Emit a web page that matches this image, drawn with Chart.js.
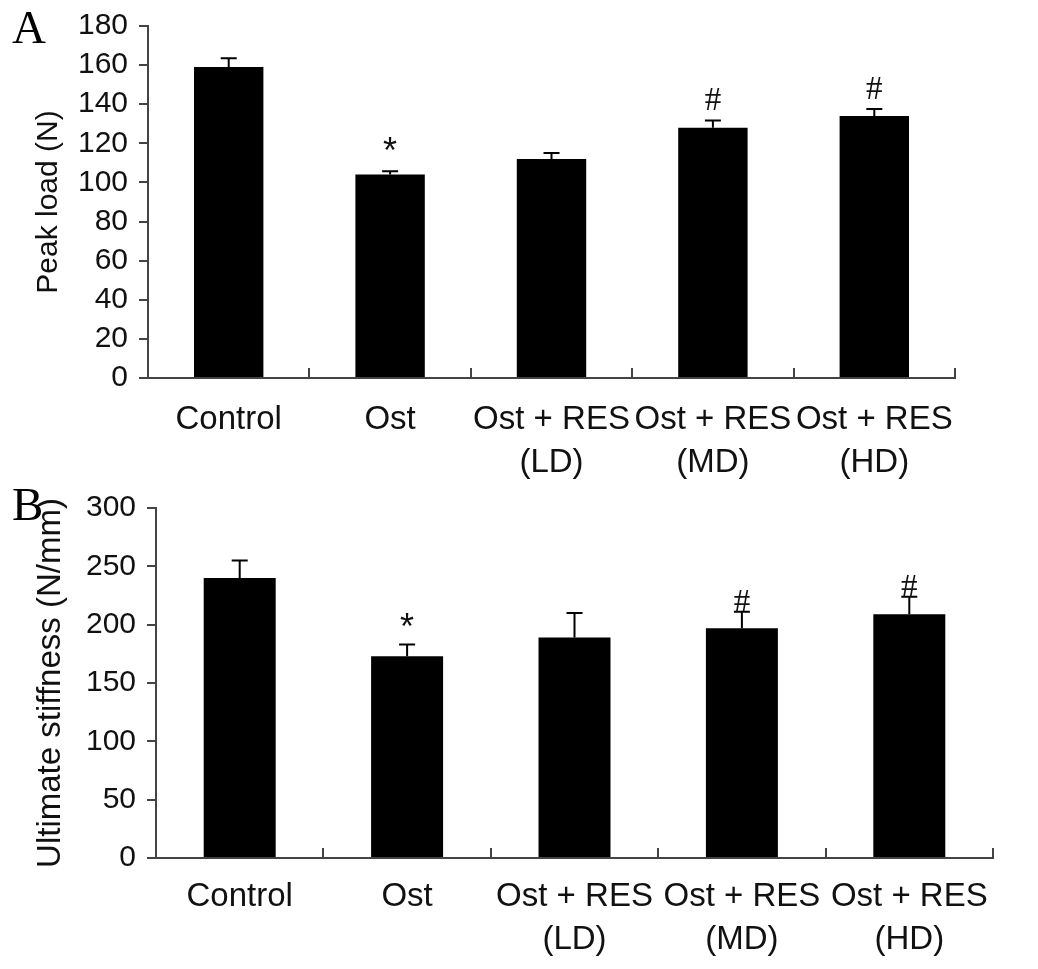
<!DOCTYPE html>
<html>
<head>
<meta charset="utf-8">
<script src="https://cdn.jsdelivr.net/npm/chart.js@4.4.0/dist/chart.umd.min.js"></script>
<style>
  body { margin: 0; background: #fff; width: 1038px; height: 969px; position: relative; overflow: hidden; }
  canvas { position: absolute; left: 0; }
  .letter { position: absolute; left: 12px; font-family: "Liberation Serif", "Times New Roman", serif; font-size: 47px; line-height: 1; color: #000; }
</style>
</head>
<body>
<canvas id="chartA" style="top:0" width="1038" height="482"></canvas>
<canvas id="chartB" style="top:482px" width="1038" height="487"></canvas>
<div class="letter" style="top:4px">A</div>
<div class="letter" style="top:481px">B</div>
<script>
// groups on the x axis (multi-line labels)
const groups = [['Control'], ['Ost'], ['Ost + RES', '(LD)'], ['Ost + RES', '(MD)'], ['Ost + RES', '(HD)']];

// panel A - peak load (N)
const peakLoad = [159, 104, 112, 128, 134];
const peakLoadErr = [4.5, 1.7, 3, 3.7, 3.5];
const peakLoadMarks = ['', '*', '', '#', '#'];

// panel B - ultimate stiffness (N/mm)
const stiffness = [240, 173, 189, 197, 209];
const stiffnessErr = [15, 10, 21, 14, 15];
const stiffnessMarks = ['', '*', '', '#', '#'];

const axisColor = '#444';

// error bars + significance marks, positioned through the chart scales
const errorBarPlugin = {
    id: 'errorBars',
    afterDatasetsDraw(chart, args, opts) {
        const ctx = chart.ctx;
        const yScale = chart.scales.y;
        const meta = chart.getDatasetMeta(0);
        const values = chart.data.datasets[0].data;
        ctx.save();
        ctx.strokeStyle = '#000';
        ctx.lineWidth = 2;
        meta.data.forEach((bar, i) => {
            const top = yScale.getPixelForValue(values[i] + opts.errors[i]);
            const base = yScale.getPixelForValue(values[i]);
            ctx.beginPath();
            ctx.moveTo(bar.x, base);
            ctx.lineTo(bar.x, top);
            ctx.moveTo(bar.x - 8, top);
            ctx.lineTo(bar.x + 8, top);
            ctx.stroke();

            const mark = opts.marks[i];
            if (mark) {
                ctx.fillStyle = '#111';
                ctx.textAlign = 'center';
                ctx.textBaseline = 'alphabetic';
                ctx.font = mark === '#' ? '33px "Liberation Serif", serif' : '36px "Liberation Sans", Arial, sans-serif';
                ctx.fillText(mark, bar.x, top - opts.gap[mark]);
            }
        });
        ctx.restore();
    }
};

function makePanel(id, values, errors, marks, yMax, yStep, yTitle, box) {
    new Chart(document.getElementById(id), {
        type: 'bar',
        data: {
            labels: groups,
            datasets: [{
                data: values,
                backgroundColor: '#000',
                borderColor: '#000',
                borderWidth: 0,
                barPercentage: 0.43,
                categoryPercentage: 1
            }]
        },
        options: {
            responsive: false,
            animation: false,
            devicePixelRatio: 1,
            layout: { padding: { left: box.padLeft, right: box.padRight, top: box.padTop, bottom: 0 } },
            plugins: {
                legend: { display: false },
                tooltip: { enabled: false },
                errorBars: { errors: errors, marks: marks, gap: box.gap }
            },
            scales: {
                x: {
                    afterFit: (scale) => { scale.height = box.xHeight; },
                    grid: {
                        drawOnChartArea: false,
                        offset: true,
                        tickLength: -10,
                        color: axisColor,
                        lineWidth: 2
                    },
                    border: { display: true, color: axisColor, width: 2 },
                    ticks: {
                        color: '#111',
                        padding: box.xPad,
                        maxRotation: 0,
                        autoSkip: false,
                        font: { family: '"Liberation Sans", Arial, sans-serif', size: 33, lineHeight: 1.3 }
                    }
                },
                y: {
                    min: 0,
                    max: yMax,
                    afterFit: (scale) => { scale.width = box.yWidth; },
                    grid: { drawOnChartArea: false, tickLength: 9, color: axisColor, lineWidth: 2 },
                    border: { display: true, color: axisColor, width: 2 },
                    ticks: {
                        stepSize: yStep,
                        autoSkip: false,
                        color: '#111',
                        padding: 11,
                        font: { family: '"Liberation Sans", Arial, sans-serif', size: 30, lineHeight: 1 }
                    },
                    title: {
                        display: true,
                        text: yTitle,
                        color: '#111',
                        padding: { top: 0, bottom: 0 },
                        font: { family: '"Liberation Sans", Arial, sans-serif', size: box.titleSize, lineHeight: 1.2 }
                    }
                }
            }
        },
        plugins: [errorBarPlugin]
    });
}

makePanel('chartA', peakLoad, peakLoadErr, peakLoadMarks, 180, 20, 'Peak load (N)', {
    padLeft: 31, padRight: 83, padTop: 25, yWidth: 117, xHeight: 104, xPad: 30.5, titleSize: 30,
    gap: { '*': 8, '#': 10 }
});

makePanel('chartB', stiffness, stiffnessErr, stiffnessMarks, 300, 50, 'Ultimate stiffness (N/mm)', {
    padLeft: 31, padRight: 45, padTop: 23, yWidth: 125, xHeight: 111, xPad: 27.5, titleSize: 33,
    gap: { '*': 6, '#': 0 }
});
</script>
</body>
</html>
